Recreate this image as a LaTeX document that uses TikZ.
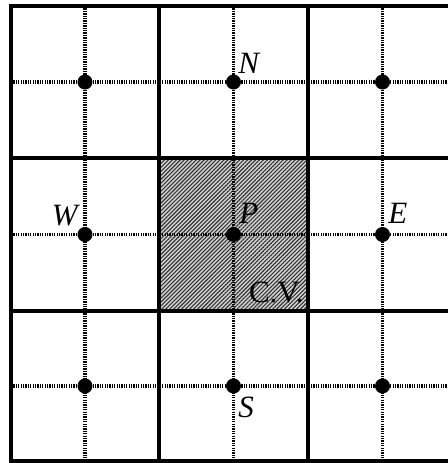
\documentclass[tikz,border=0pt]{standalone}
\usepackage{fontspec}
\setmainfont{Liberation Serif}
\usepackage{tikz}
\usetikzlibrary{patterns.meta}

\begin{document}
\begin{tikzpicture}[x=0.5pt, y=-0.5pt,
  gridline/.style={line width=2pt, draw=black},
  axisline/.style={line width=1.6pt, draw=black, dash pattern=on 0.65pt off 0.55pt},
  cvfill/.style={pattern={Lines[angle=45,distance=1.4pt,line width=0.55pt]},
    pattern color=black!80},
  nodept/.style={circle, fill=black, inner sep=0pt, minimum size=7.5pt},
  lbl/.style={inner sep=0pt, font=\fontsize{15.5}{18}\selectfont\itshape}
]
\useasboundingbox (0,0) rectangle (448,463);
\clip (0,0) rectangle (448,463);

% control volume around P
\fill[gray!35] (159,158) rectangle (308,311);
\fill[cvfill] (159,158) rectangle (308,311);

% dotted lines through the grid points
\foreach \c in {85,233.5,382.5}
  \draw[axisline] (\c,6) -- (\c,461);
\foreach \r in {82,234.5,386}
  \draw[axisline] (11,\r) -- (457,\r);

% cell faces
\foreach \c in {11,159,308,457}
  \draw[gridline] (\c,6) -- (\c,461);
\foreach \r in {6,158,311,461}
  \draw[gridline] (9,\r) -- (459,\r);

% grid points
\node[nodept] (NW) at (85,82) {};
\node[nodept] (N) at (233.5,82) {};
\node[nodept] (NE) at (382.5,82) {};
\node[nodept] (W) at (85,234.5) {};
\node[nodept] (P) at (233.5,234.5) {};
\node[nodept] (E) at (382.5,234.5) {};
\node[nodept] (SW) at (85,386) {};
\node[nodept] (S) at (233.5,386) {};
\node[nodept] (SE) at (382.5,386) {};

% labels
\node[lbl, anchor=base west] (Nlbl) at (238,73) {N};
\node[lbl, anchor=base east] (Wlbl) at (78,225) {W};
\node[lbl, anchor=base west] (Plbl) at (239,223) {P};
\node[lbl, anchor=base west] (Elbl) at (388,223) {E};
\node[lbl, anchor=base west] (Slbl) at (238,417) {S};
\node[lbl, anchor=base east, font=\fontsize{15.5}{18}\selectfont\upshape] (CVlbl) at (304,302) {C.V.};
\end{tikzpicture}
\end{document}
